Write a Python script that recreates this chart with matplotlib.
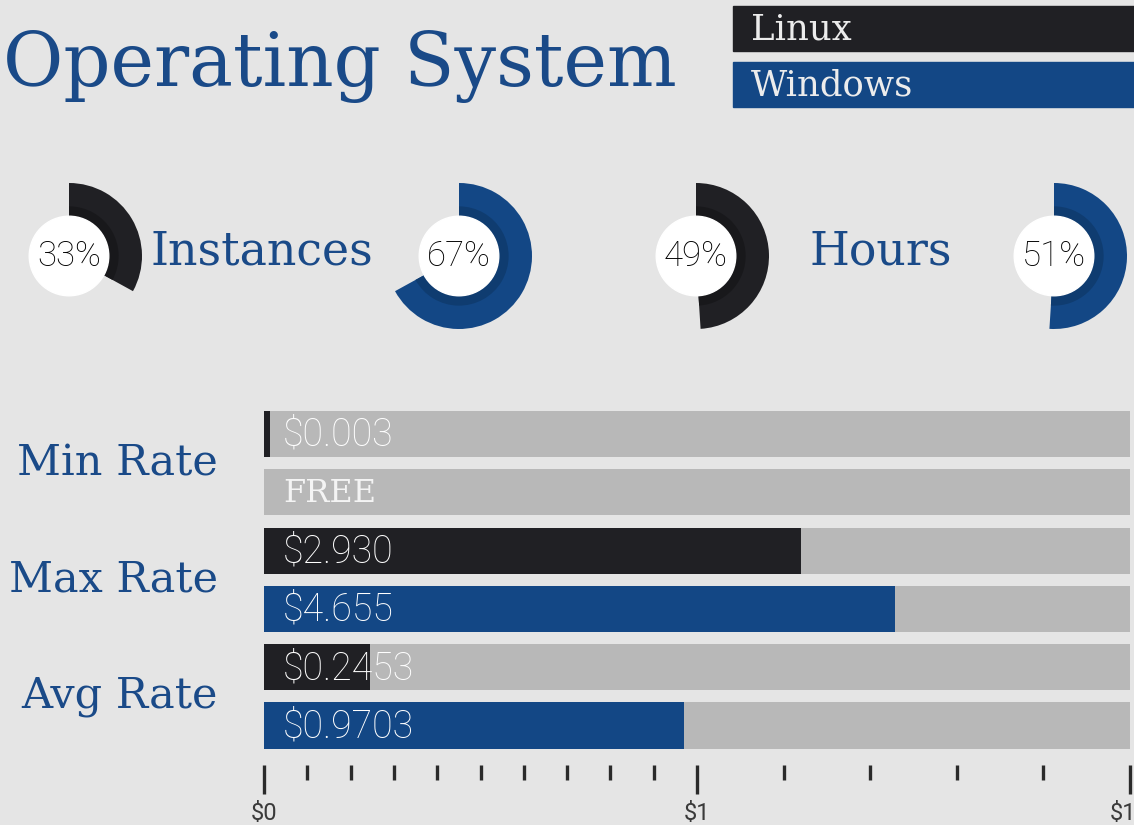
import numpy as np
import matplotlib.pyplot as plt
from matplotlib.patches import Rectangle, Circle


# colours
BG = '#e5e5e5'
LINUX = '#202024'
WIN = '#134785'
LINUX_DARK = '#18181b'
WIN_DARK = '#0f3c70'
GREY = '#b8b8b8'
BLUE_TXT = '#1a4a88'

# data
os_names = ['Linux', 'Windows']
instances_pct = [33, 67]
hours_pct = [49, 51]

rate_groups = ['Min Rate', 'Max Rate', 'Avg Rate']
linux_rates = [0.003, 2.930, 0.2453]
windows_rates = [0.0, 4.655, 0.9703]
linux_labels = ['$0.003', '$2.930', '$0.2453']
windows_labels = ['FREE', '$4.655', '$0.9703']

axis_max = 9.0
major_ticks = [0, 1, 9]
major_labels = ['$0', '$1', '$10']
minor_ticks = [0.1, 0.2, 0.3, 0.4, 0.5, 0.6, 0.7, 0.8, 0.9, 2.6, 4.2, 5.8, 7.4]

SERIF = 'DejaVu Serif'
SANS = 'Roboto'

W, H = 1134, 825
fig = plt.figure(figsize=(W / 100, H / 100), dpi=100, facecolor=BG)


def px_axes(x0, y0, x1, y1):
    return fig.add_axes([x0 / W, 1 - y1 / H, (x1 - x0) / W, (y1 - y0) / H])


# title + legend
fig.text(3 / W, 1 - 86 / H, 'Operating System', ha='left', va='baseline',
         fontsize=53, family=SERIF, color=BLUE_TXT)

for i, (name, col) in enumerate(zip(os_names, [LINUX, WIN])):
    y0 = 6 + i * 56
    fig.patches.append(Rectangle((733 / W, 1 - (y0 + 45) / H), (W - 733) / W, 45 / H,
                                 transform=fig.transFigure, color=col, zorder=0))
    fig.text(751 / W, 1 - (y0 + 24) / H, name, ha='left', va='center',
             fontsize=25.5, family=SERIF, color='#ececec')


# donuts
def donut(cx, pct, col, dark):
    r = 73
    ax = px_axes(cx - r, 256 - r, cx + r, 256 + r)
    p = pct / 100
    ax.pie([p, 1 - p], colors=[col, 'none'], startangle=90, counterclock=False,
           radius=1, wedgeprops=dict(width=1 - 0.54, linewidth=0))
    ax.pie([p, 1 - p], colors=[dark, 'none'], startangle=90, counterclock=False,
           radius=0.68, wedgeprops=dict(width=0.68 - 0.54, linewidth=0))
    ax.add_patch(Circle((0, 0), 0.545, color='white', zorder=5))
    ax.text(0, 0, f'{pct}%', ha='center', va='center', fontsize=25,
            family=SANS, fontweight='light', color='black', zorder=6)
    ax.set_xlim(-1, 1)
    ax.set_ylim(-1, 1)
    ax.set_aspect('equal')
    ax.axis('off')


donut(69, instances_pct[0], LINUX, LINUX_DARK)
donut(459, instances_pct[1], WIN, WIN_DARK)
donut(696, hours_pct[0], LINUX, LINUX_DARK)
donut(1054, hours_pct[1], WIN, WIN_DARK)

fig.text(262 / W, 1 - 252 / H, 'Instances', ha='center', va='center',
         fontsize=33, family=SERIF, color=BLUE_TXT)
fig.text(881 / W, 1 - 252 / H, 'Hours', ha='center', va='center',
         fontsize=33, family=SERIF, color=BLUE_TXT)


# rate bars
def fwd(x):
    x = np.asarray(x, dtype=float)
    return np.where(x <= 1, x, 1 + (x - 1) / (axis_max - 1))


def inv(y):
    y = np.asarray(y, dtype=float)
    return np.where(y <= 1, y, 1 + (y - 1) * (axis_max - 1))


ax = px_axes(264, 405, 1130, 765)
ax.set_facecolor('none')
ax.set_xscale('function', functions=(fwd, inv))

vals, labels, cols = [], [], []
for lv, wv, ll, wl in zip(linux_rates, windows_rates, linux_labels, windows_labels):
    vals += [lv, wv]
    labels += [ll, wl]
    cols += [LINUX, WIN]

rows = np.arange(len(vals))
ax.barh(rows, axis_max, height=0.79, color=GREY, linewidth=0)
# tiny values get a minimum visible width, as in the original
shown = [v if v == 0 else max(v, 0.015) for v in vals]
ax.barh(rows, shown, height=0.79, color=cols, linewidth=0)
for r, lab, v in zip(rows, labels, vals):
    if v == 0:
        ax.text(0.022, r + 0.02, lab, transform=ax.get_yaxis_transform(), ha='left',
                va='center', fontsize=23, family=SERIF, color='#f4f4f4')
    else:
        ax.text(0.022, r + 0.02, lab, transform=ax.get_yaxis_transform(), ha='left',
                va='center', fontsize=27, family=SANS, fontweight='light', color='white')

for g, name in enumerate(rate_groups):
    ax.text(-46 / 866, 2 * g + 0.5, name, transform=ax.get_yaxis_transform(),
            ha='right', va='center', fontsize=31, family=SERIF, color=BLUE_TXT)

ax.set_xlim(0, axis_max)
ax.set_ylim((765 - 434) / 58.3, -(434 - 405) / 58.3)
for s in ax.spines.values():
    s.set_visible(False)
ax.set_yticks([])
ax.set_xticks(major_ticks)
ax.set_xticklabels(major_labels, family=SANS, fontweight='normal', fontsize=17, color='#3a3a3a')
ax.set_xticks(minor_ticks, minor=True)
ax.tick_params(axis='x', which='major', length=21, width=2.4, color='#2a2a2a', pad=6)
ax.tick_params(axis='x', which='minor', length=11, width=2.4, color='#2a2a2a')

fig.savefig('out.png', dpi=100, facecolor=BG)
